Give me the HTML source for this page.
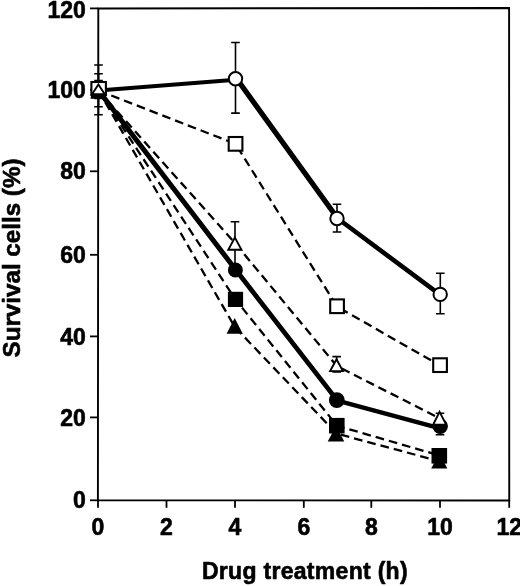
<!DOCTYPE html>
<html><head><meta charset="utf-8"><title>Survival cells vs drug treatment</title>
<style>html,body{margin:0;padding:0;background:#fff}body{width:520px;height:586px;overflow:hidden}svg{display:block;will-change:transform}text{font-family:"Liberation Sans",Arial,Helvetica,sans-serif;font-weight:bold;fill:#000;stroke:#000;stroke-width:0.6px;stroke-linejoin:round}</style></head><body>
<svg width="520" height="586" viewBox="0 0 520 586">
<rect width="520" height="586" fill="#fff"/>
<!-- plot frame -->
<path d="M98.3 8.5L509.1 8.0L509.25 500.5L97.9 500.3Z" fill="none" stroke="#000" stroke-width="1.9"/>
<!-- y axis ticks + labels -->
<line x1="90.0" y1="500.3" x2="98.0" y2="500.3" stroke="#000" stroke-width="1.8"/>
<text x="85.9" y="508.4" font-size="23" text-anchor="end">0</text>
<line x1="90.0" y1="417.4" x2="98.0" y2="417.4" stroke="#000" stroke-width="1.8"/>
<text x="85.9" y="425.5" font-size="23" text-anchor="end">20</text>
<line x1="90.0" y1="336.4" x2="98.0" y2="336.4" stroke="#000" stroke-width="1.8"/>
<text x="85.9" y="344.5" font-size="23" text-anchor="end">40</text>
<line x1="90.0" y1="254.8" x2="98.0" y2="254.8" stroke="#000" stroke-width="1.8"/>
<text x="85.9" y="262.9" font-size="23" text-anchor="end">60</text>
<line x1="90.0" y1="171.3" x2="98.0" y2="171.3" stroke="#000" stroke-width="1.8"/>
<text x="85.9" y="179.4" font-size="23" text-anchor="end">80</text>
<line x1="90.0" y1="89.8" x2="98.0" y2="89.8" stroke="#000" stroke-width="1.8"/>
<text x="85.9" y="97.9" font-size="23" text-anchor="end">100</text>
<line x1="90.0" y1="8.4" x2="98.0" y2="8.4" stroke="#000" stroke-width="1.8"/>
<text x="85.9" y="18.2" font-size="23" text-anchor="end">120</text>
<!-- x axis ticks + labels -->
<line x1="98.0" y1="500.4" x2="98.0" y2="507.8" stroke="#000" stroke-width="1.8"/>
<text x="98.0" y="534.8" font-size="23" text-anchor="middle">0</text>
<line x1="166.5" y1="500.4" x2="166.5" y2="507.8" stroke="#000" stroke-width="1.8"/>
<text x="166.5" y="534.8" font-size="23" text-anchor="middle">2</text>
<line x1="235.0" y1="500.4" x2="235.0" y2="507.8" stroke="#000" stroke-width="1.8"/>
<text x="235.0" y="534.8" font-size="23" text-anchor="middle">4</text>
<line x1="303.8" y1="500.4" x2="303.8" y2="507.8" stroke="#000" stroke-width="1.8"/>
<text x="303.8" y="534.8" font-size="23" text-anchor="middle">6</text>
<line x1="371.3" y1="500.4" x2="371.3" y2="507.8" stroke="#000" stroke-width="1.8"/>
<text x="371.3" y="534.8" font-size="23" text-anchor="middle">8</text>
<line x1="440.0" y1="500.4" x2="440.0" y2="507.8" stroke="#000" stroke-width="1.8"/>
<text x="440.0" y="534.8" font-size="23" text-anchor="middle">10</text>
<line x1="509.2" y1="500.4" x2="509.2" y2="507.8" stroke="#000" stroke-width="1.8"/>
<text x="509.2" y="534.8" font-size="23" text-anchor="middle">12</text>
<text x="201.9" y="579" font-size="23" letter-spacing="0.3">Drug treatment (h)</text>
<text transform="translate(20.3,258) rotate(-90)" font-size="24.2" text-anchor="middle">Survival cells (%)</text>
<!-- dashed series lines -->
<polyline points="98.5,90.5 234.8,327.0 336.6,433.6 439.4,461.2" fill="none" stroke="#000" stroke-width="2.3" stroke-dasharray="8.7 5"/>
<polyline points="98.5,90.5 235.5,299.5 337.0,425.7 439.6,455.5" fill="none" stroke="#000" stroke-width="2.3" stroke-dasharray="8.7 5"/>
<polyline points="98.5,90.5 235.0,243.0 336.8,366.0 440.0,418.5" fill="none" stroke="#000" stroke-width="2.3" stroke-dasharray="8.7 5"/>
<polyline points="98.5,90.5 235.5,143.9 337.2,306.8 440.2,365.5" fill="none" stroke="#000" stroke-width="2.3" stroke-dasharray="8.7 5"/>
<!-- solid series lines -->
<line x1="98.5" y1="90.5" x2="235.9" y2="270.0" stroke="#000" stroke-width="5.0" stroke-linecap="round"/>
<line x1="235.9" y1="270.0" x2="337.4" y2="400.6" stroke="#000" stroke-width="4.8" stroke-linecap="round"/>
<line x1="337.4" y1="400.6" x2="440.2" y2="428.4" stroke="#000" stroke-width="4.4" stroke-linecap="round"/>
<line x1="98.5" y1="90.5" x2="235.9" y2="79.8" stroke="#000" stroke-width="4.0" stroke-linecap="round"/>
<line x1="236.7" y1="78.8" x2="337.7" y2="218.5" stroke="#000" stroke-width="5.3" stroke-linecap="round"/>
<line x1="337.7" y1="218.5" x2="440.3" y2="294.9" stroke="#000" stroke-width="4.6" stroke-linecap="round"/>
<!-- error bars -->
<path d="M98.5 65.0V114.7M94.2 65.0h8.6M94.2 114.7h8.6" stroke="#000" stroke-width="1.6" fill="none"/>
<path d="M98.5 73.8V106.7M94.2 73.8h8.6M94.2 106.7h8.6" stroke="#000" stroke-width="1.6" fill="none"/>
<path d="M98.5 80.6V98.4M94.2 80.6h8.6M94.2 98.4h8.6" stroke="#000" stroke-width="1.6" fill="none"/>
<path d="M235.5 42.5V113.1M231.2 42.5h8.6M231.2 113.1h8.6" stroke="#000" stroke-width="1.6" fill="none"/>
<path d="M235.0 221.8V266.0M230.7 221.8h8.6M230.7 266.0h8.6" stroke="#000" stroke-width="1.6" fill="none"/>
<path d="M337.0 204.3V232.0M332.7 204.3h8.6M332.7 232.0h8.6" stroke="#000" stroke-width="1.6" fill="none"/>
<path d="M336.7 356.6V372.0M332.4 356.6h8.6M332.4 372.0h8.6" stroke="#000" stroke-width="1.6" fill="none"/>
<path d="M440.3 273.3V313.8M436.0 273.3h8.6M436.0 313.8h8.6" stroke="#000" stroke-width="1.6" fill="none"/>
<path d="M440.0 413.3V434.8M435.7 413.3h8.6M435.7 434.8h8.6" stroke="#000" stroke-width="1.6" fill="none"/>
<path d="M439.5 450.0V467.0M435.2 450.0h8.6M435.2 467.0h8.6" stroke="#000" stroke-width="1.6" fill="none"/>
<path d="M337.0 420.0V440.0M332.7 420.0h8.6M332.7 440.0h8.6" stroke="#000" stroke-width="1.6" fill="none"/>
<!-- markers -->
<path d="M98.3 83.5L106.4 98.6H90.2Z" fill="#000"/>
<path d="M234.7 318.0L242.8 333.8H226.6Z" fill="#000"/>
<path d="M336.0 426.0L344.3 441.5H327.7Z" fill="#000"/>
<path d="M439.3 453.5L447.4 468.6H431.2Z" fill="#000"/>
<rect x="91.0" y="83.5" width="15.0" height="15.0" fill="#000"/>
<rect x="227.9" y="291.8" width="15.2" height="15.2" fill="#000"/>
<rect x="329.0" y="417.9" width="15.6" height="15.6" fill="#000"/>
<rect x="431.5" y="448.0" width="15.6" height="15.6" fill="#000"/>
<circle cx="98.5" cy="91.5" r="7.3" fill="#000"/>
<circle cx="235.4" cy="270.0" r="7.5" fill="#000"/>
<circle cx="336.8" cy="400.1" r="7.9" fill="#000"/>
<circle cx="440.2" cy="426.3" r="7.7" fill="#000"/>
<circle cx="98.5" cy="89.0" r="6.3" fill="#fff" stroke="#000" stroke-width="2"/>
<circle cx="235.5" cy="78.7" r="6.7" fill="#fff" stroke="#000" stroke-width="2"/>
<circle cx="337.0" cy="218.5" r="6.7" fill="#fff" stroke="#000" stroke-width="2"/>
<circle cx="440.2" cy="294.4" r="6.7" fill="#fff" stroke="#000" stroke-width="2"/>
<rect x="91.4" y="82.0" width="14.5" height="13.0" fill="#fff" stroke="#000" stroke-width="2.1"/>
<rect x="228.7" y="137.0" width="13.7" height="13.7" fill="#fff" stroke="#000" stroke-width="2.1"/>
<rect x="330.2" y="299.4" width="13.7" height="13.7" fill="#fff" stroke="#000" stroke-width="2.1"/>
<rect x="433.2" y="358.3" width="13.7" height="13.7" fill="#fff" stroke="#000" stroke-width="2.1"/>
<path d="M98.4 84.4L104.8 94.3H92.0Z" fill="#fff" stroke="#000" stroke-width="1.9" stroke-linejoin="miter"/>
<path d="M234.9 237.6L241.5 249.7H228.3Z" fill="#fff" stroke="#000" stroke-width="1.9" stroke-linejoin="miter"/>
<path d="M336.5 359.3L342.9 371.1H330.1Z" fill="#fff" stroke="#000" stroke-width="1.9" stroke-linejoin="miter"/>
<path d="M439.6 411.9L446.1 424.6H433.2Z" fill="#fff" stroke="#000" stroke-width="1.9" stroke-linejoin="miter"/>
</svg></body></html>
